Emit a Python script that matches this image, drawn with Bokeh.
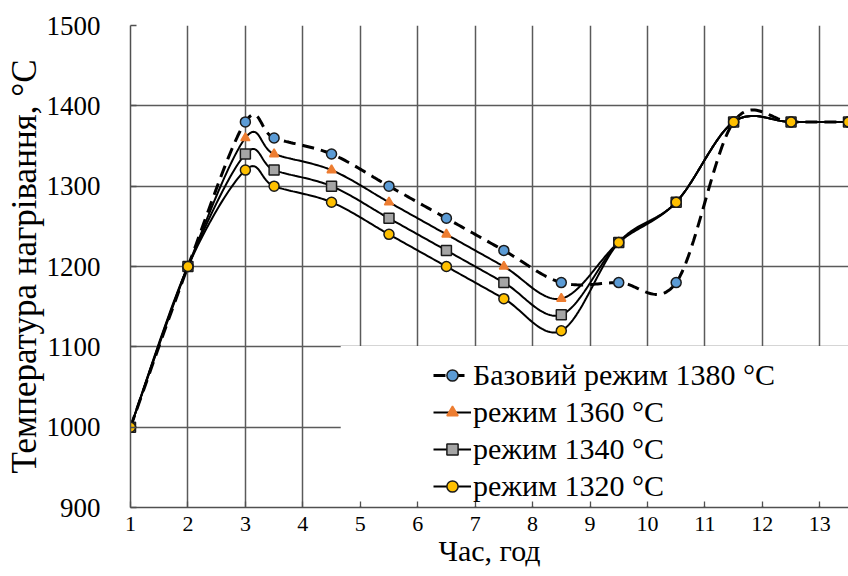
import numpy as np
from bokeh.plotting import figure
from bokeh.models import Legend, LegendItem, FixedTicker, Range1d
from bokeh.embed import file_html
from bokeh.resources import INLINE

# ---- data ----
hours = [1, 2, 3, 3.5, 4.5, 5.5, 6.5, 7.5, 8.5, 9.5, 10.5, 11.5, 12.5, 13.5]
base_1380 = [1000, 1200, 1380, 1360, 1340, 1300, 1260, 1220, 1180, 1180, 1180, 1380, 1380, 1380]
mode_1360 = [1000, 1200, 1360, 1340, 1320, 1280, 1240, 1200, 1160, 1230, 1280, 1380, 1380, 1380]
mode_1340 = [1000, 1200, 1340, 1320, 1300, 1260, 1220, 1180, 1140, 1230, 1280, 1380, 1380, 1380]
mode_1320 = [1000, 1200, 1320, 1300, 1280, 1240, 1200, 1160, 1120, 1230, 1280, 1380, 1380, 1380]
labels = ["Базовий режим 1380 °C", "режим 1360 °C", "режим 1340 °C", "режим 1320 °C"]
x_ticks = list(range(1, 14))
y_ticks = list(range(900, 1501, 100))

FONT = "Liberation Serif"


def smooth(xs, ys, n=30):
    """Excel-style smoothed line (Catmull-Rom Bezier)."""
    P = np.column_stack([xs, ys]).astype(float)
    ext = np.vstack([P[0], P, P[-1]])
    segs = []
    m = len(P) - 1
    for i in range(m):
        p0, p1, p2, p3 = ext[i], ext[i + 1], ext[i + 2], ext[i + 3]
        c1 = p1 + (p2 - p0) / 6.0
        c2 = p2 - (p3 - p1) / 6.0
        t = np.linspace(0, 1, n, endpoint=(i == m - 1))[:, None]
        seg = (1 - t) ** 3 * p1 + 3 * (1 - t) ** 2 * t * c1 + 3 * (1 - t) * t ** 2 * c2 + t ** 3 * p2
        segs.append(seg)
    S = np.vstack(segs)
    return S[:, 0], S[:, 1]


p = figure(width=848, height=576, output_backend="svg", toolbar_location=None,
           x_range=Range1d(1, 13.5), y_range=Range1d(900, 1500),
           min_border_left=130, min_border_right=0, min_border_top=25, min_border_bottom=69)
p.outline_line_color = None
p.background_fill_color = "white"

# grid
p.xgrid.ticker = FixedTicker(ticks=x_ticks)
p.ygrid.ticker = FixedTicker(ticks=y_ticks)
for g in (p.xgrid, p.ygrid):
    g.grid_line_color = "#5a5a5a"
    g.grid_line_width = 1.5

# white area behind the legend (covers grid lines only)
p.quad(left=[4.66], right=[14], bottom=[902], top=[1101], fill_color="white", line_color=None)

# axes
p.xaxis.ticker = FixedTicker(ticks=x_ticks)
p.yaxis.ticker = FixedTicker(ticks=y_ticks)
for ax in (p.xaxis[0], p.yaxis[0]):
    ax.axis_line_color = "#505050"
    ax.axis_line_width = 1.5
    ax.major_tick_in = 6
    ax.major_tick_out = 0
    ax.major_tick_line_color = "#505050"
    ax.major_tick_line_width = 1.3
    ax.minor_tick_line_color = None
    ax.major_label_text_font = FONT
    ax.major_label_text_color = "black"
    ax.axis_label_text_font = FONT
    ax.axis_label_text_font_style = "normal"
    ax.axis_label_text_color = "black"

p.xaxis.major_label_text_font_size = "22px"
p.xaxis.major_label_standoff = 9
p.xaxis.axis_label = "Час, год"
p.xaxis.axis_label_text_font_size = "30px"
p.xaxis.axis_label_standoff = 0

p.yaxis.major_label_text_font_size = "27px"
p.yaxis.major_label_standoff = 30
p.yaxis.axis_label = "Температура нагрівання, °C"
p.yaxis.axis_label_text_font_size = "35px"
p.yaxis.axis_label_standoff = 0

series = [
    dict(y=base_1380, dash="12 7", lw=3.0, marker="circle", fill="#5B9BD5", mline="#1a1a1a", size=10),
    dict(y=mode_1360, dash="solid", lw=2.0, marker="triangle", fill="#ED7D31", mline="#ED7D31", size=9),
    dict(y=mode_1340, dash="solid", lw=2.0, marker="square", fill="#A5A5A5", mline="#1a1a1a", size=10),
    dict(y=mode_1320, dash="solid", lw=2.0, marker="circle", fill="#FFC000", mline="#1a1a1a", size=10),
]

items = []
for s, lab in zip(series, labels):
    sx, sy = smooth(hours, s["y"])
    lr = p.line(sx, sy, line_color="black", line_width=s["lw"], line_dash=s["dash"])
    sr = p.scatter(hours, s["y"], marker=s["marker"], size=s["size"], fill_color=s["fill"],
                   line_color=s["mline"], line_width=1.5)
    items.append(LegendItem(label=lab, renderers=[lr, sr]))

legend = Legend(items=items, location=(303, 4), padding=0, margin=0, spacing=3,
                glyph_width=38, glyph_height=28, label_height=28, label_standoff=2,
                label_text_font=FONT, label_text_font_size="30px", label_text_color="black",
                background_fill_alpha=0, border_line_color=None)
p.add_layout(legend, "center")

open("out.html", "w").write(file_html(p, INLINE))
